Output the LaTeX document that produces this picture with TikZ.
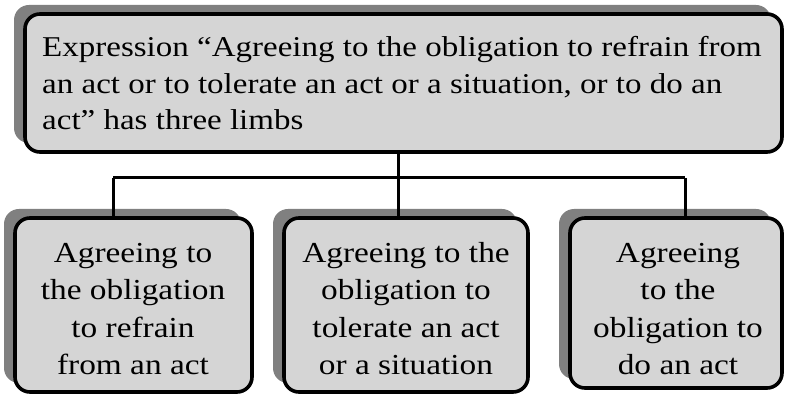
\documentclass[tikz,border=0pt]{standalone}
\usepackage{fontspec}
\setmainfont[FakeStretch=1.15]{Liberation Serif}
\usetikzlibrary{shadows}
\definecolor{boxgray}{RGB}{213,213,213}
\definecolor{shadowgray}{RGB}{128,128,128}
\begin{document}
\begin{tikzpicture}[x=1pt,y=-1pt,
  box/.style={draw=black, line width=3.6pt, fill=boxgray, rounded corners=15pt,
    rectangle, inner sep=0pt,
    drop shadow={shadow xshift=-11pt, shadow yshift=9pt, fill=shadowgray, opacity=1}},
  txt/.style={inner sep=0pt, font=\fontsize{29}{37.5}\selectfont},
  conn/.style={draw=black, line width=3pt}]
\useasboundingbox (0,0) rectangle (788,395);
% boxes
\node[box, minimum width=757pt, minimum height=138pt] (top) at (403.5,83) {};
\node[box, minimum width=237pt, minimum height=174pt] (b1) at (133.5,305) {};
\node[box, minimum width=244pt, minimum height=174pt] (b2) at (406,305) {};
\node[box, minimum width=212pt, minimum height=170pt] (b3) at (676,303) {};
% texts
\node[txt, align=left, anchor=base west, font=\fontsize{28.7}{36.5}\selectfont] (t0) at (42,130)
  {Expression “Agreeing to the obligation to refrain from\\
   an act or to tolerate an act or a situation, or to do an\\
   act” has three limbs};
\node[txt, align=center, anchor=base] (t1) at (133,375)
  {Agreeing to\\ the obligation\\ to refrain\\ from an act};
\node[txt, align=center, anchor=base] (t2) at (406,375)
  {Agreeing to the\\ obligation to\\ tolerate an act\\ or a situation};
\node[txt, align=center, anchor=base] (t3) at (678,375)
  {Agreeing\\ to the\\ obligation to\\ do an act};
% connectors
\coordinate (j) at (398,178);
\coordinate (h1) at (113,178);
\coordinate (h3) at (685,178);
\draw[conn] (top.south -| j) -- (j);
\draw[conn] (h1) -- (h3);
\draw[conn] (h1) -- (h1 |- b1.north);
\draw[conn] (j) -- (j |- b2.north);
\draw[conn] (h3) -- (h3 |- b3.north);
\end{tikzpicture}
\end{document}
